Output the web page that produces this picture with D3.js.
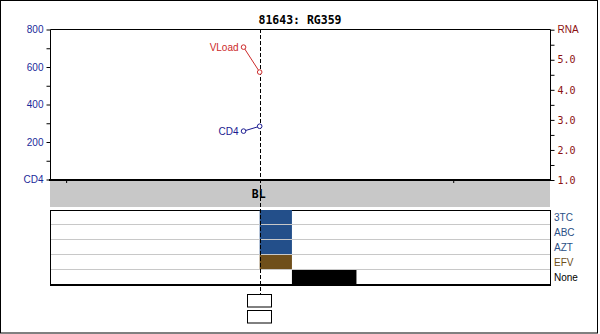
<!DOCTYPE html>
<html>
<head>
<meta charset="utf-8">
<script src="https://cdn.jsdelivr.net/npm/d3@7"></script>
<style>
  body { margin: 0; background: #fff; }
  svg { display: block; }
  text { font-family: "Liberation Sans", Arial, sans-serif; font-size: 10px; }
</style>
</head>
<body>
<svg id="chart" width="600" height="334" viewBox="0 0 600 334"></svg>
<script>
// ----- data -----
const title = "81643: RG359";
const visitMonths = [-1, 0];          // months from baseline
const cd4Values = [258, 284];
const rnaValues = [5.42, 4.59];       // log10 viral load
const baselineLabel = "BL";

const drugs = ["3TC", "ABC", "AZT", "EFV", "None"];
const drugStart = [0, 0, 0, 0, 2];
const drugEnd = [2, 2, 2, 2, 6];
const drugColors = ["#234f8a", "#234f8a", "#234f8a", "#6f4f1b", "#000000"];
const drugTextColors = ["#2a4f86", "#2a4f86", "#2a4f86", "#6f4f1b", "#000000"];

const cd4Ticks = [0, 100, 200, 300, 400, 500, 600, 700, 800];
const rnaTicks = [1, 1.5, 2, 2.5, 3, 3.5, 4, 4.5, 5, 5.5, 6];
const timeTicks = [-12, 12];

let svg = d3.select("#chart");

/* ----- layout ----- */
let plotLeft = 50, plotRight = 550, plotTop = 29, plotBottom = 180;
let bandBottom = 207;
let txTop = 210, rowH = 15;

let x = d3.scaleLinear().domain([-13, 18]).range([plotLeft, plotRight]);
let yCd4 = d3.scaleLinear().domain([0, 800]).range([179.5, 29.5]);
let yRna = d3.scaleLinear().domain([1, 6]).range([180, 29.7]);

// outer frame
svg.append("rect")
    .attr("x", 0.5).attr("y", 0.5)
    .attr("width", 597).attr("height", 332.5)
    .attr("fill", "none").attr("stroke", "#000");

// title
svg.append("text")
    .attr("x", 300).attr("y", 24)
    .attr("text-anchor", "middle")
    .style("font-family", "'DejaVu Sans Mono', monospace")
    .style("font-size", "11.5px")
    .style("font-weight", "bold")
    .text(title);

// gray band under plot
svg.append("rect")
    .attr("x", plotLeft).attr("y", plotBottom)
    .attr("width", plotRight - plotLeft).attr("height", bandBottom - plotBottom)
    .attr("fill", "#c8c8c8");

// plot frame lines
svg.append("path")
    .attr("d", `M${plotLeft + 0.5},${plotBottom}V${plotTop + 0.5}H${plotRight + 0.5}V${plotBottom}`)
    .attr("fill", "none").attr("stroke", "#000");
svg.append("line")
    .attr("x1", plotLeft - 1).attr("x2", plotRight + 1)
    .attr("y1", plotBottom).attr("y2", plotBottom)
    .attr("stroke", "#000").attr("stroke-width", 2);

/* ----- axes ----- */
let leftAxis = svg.append("g")
    .attr("transform", `translate(${plotLeft + 0.5},0)`)
    .call(d3.axisLeft(yCd4).tickValues(cd4Ticks).tickSize(4).tickPadding(3)
        .tickFormat(d => d === 0 ? "CD4" : (d % 200 === 0 ? d : "")));
leftAxis.select(".domain").remove();
leftAxis.selectAll("line").attr("stroke", "#000");
leftAxis.selectAll("text").attr("fill", "#1a2a9a")
    .style("font-family", "'Liberation Sans', Arial, sans-serif").style("font-size", "10px");

let rightAxis = svg.append("g")
    .attr("transform", `translate(${plotRight + 0.5},0)`)
    .call(d3.axisRight(yRna).tickValues(rnaTicks).tickSize(4).tickPadding(3)
        .tickFormat(d => d === 6 ? "RNA" : (Number.isInteger(d) ? d.toFixed(1) : "")));
rightAxis.select(".domain").remove();
rightAxis.selectAll("line").attr("stroke", "#000");
rightAxis.selectAll("text").attr("fill", "#8b1010")
    .style("font-family", "'DejaVu Sans Mono', monospace").style("font-size", "10px");
rightAxis.selectAll("text").filter(d => d === 6)
    .style("font-family", "'Liberation Sans', Arial, sans-serif");

let timeAxis = svg.append("g")
    .attr("transform", `translate(0,${plotBottom})`)
    .call(d3.axisBottom(x).tickValues(timeTicks).tickSize(3).tickFormat(""));
timeAxis.select(".domain").remove();
timeAxis.selectAll("line").attr("stroke", "#000");

/* ----- treatment panel ----- */
let tx = svg.append("g");
tx.append("rect")
    .attr("x", plotLeft + 0.5).attr("y", txTop + 0.5)
    .attr("width", plotRight - plotLeft).attr("height", rowH * drugs.length)
    .attr("fill", "#fff").attr("stroke", "#000");

tx.selectAll(".bar")
    .data(drugs)
    .enter()
    .append("rect")
    .attr("class", "bar")
    .attr("x", (d, i) => x(drugStart[i]))
    .attr("width", (d, i) => x(drugEnd[i]) - x(drugStart[i]))
    .attr("y", (d, i) => txTop + i * rowH)
    .attr("height", rowH)
    .attr("fill", (d, i) => drugColors[i]);

tx.selectAll(".sep")
    .data(drugs.slice(1))
    .enter()
    .append("line")
    .attr("class", "sep")
    .attr("x1", plotLeft + 1).attr("x2", plotRight)
    .attr("y1", (d, i) => txTop + (i + 1) * rowH - 0.5)
    .attr("y2", (d, i) => txTop + (i + 1) * rowH - 0.5)
    .attr("stroke", "#c8c8c8");

tx.append("line")
    .attr("x1", plotLeft).attr("x2", plotRight + 1)
    .attr("y1", txTop + rowH * drugs.length).attr("y2", txTop + rowH * drugs.length)
    .attr("stroke", "#000").attr("stroke-width", 2);
tx.append("line")
    .attr("x1", plotRight + 0.5).attr("x2", plotRight + 0.5)
    .attr("y1", txTop).attr("y2", txTop + rowH * drugs.length)
    .attr("stroke", "#000");

tx.selectAll(".drug")
    .data(drugs)
    .enter()
    .append("text")
    .attr("class", "drug")
    .attr("x", plotRight + 4)
    .attr("y", (d, i) => txTop + i * rowH + 11)
    .attr("fill", (d, i) => drugTextColors[i])
    .text(d => d);

/* ----- baseline marker ----- */
svg.append("line")
    .attr("x1", Math.round(x(0)) + 0.5).attr("x2", Math.round(x(0)) + 0.5)
    .attr("y1", plotTop).attr("y2", 294)
    .attr("stroke", "#000").attr("stroke-dasharray", "4,2");

svg.append("text")
    .attr("x", x(0) - 1).attr("y", 198)
    .attr("text-anchor", "middle")
    .style("font-family", "'DejaVu Sans Mono', monospace")
    .style("font-size", "11.5px")
    .style("font-weight", "bold")
    .text(baselineLabel);

[294.5, 310.5].forEach(yy => {
    svg.append("rect")
        .attr("x", Math.round(x(0)) - 12.5).attr("y", yy)
        .attr("width", 24).attr("height", 12.5)
        .attr("fill", "#fff").attr("stroke", "#000");
});

/* ----- lab series ----- */
function drawSeries(values, yScale, color, name) {
    let pts = visitMonths.map((m, i) => [x(m), yScale(values[i])]);
    svg.append("path")
        .attr("d", d3.line()(pts))
        .attr("fill", "none").attr("stroke", color);
    svg.selectAll(null)
        .data(pts)
        .enter()
        .append("circle")
        .attr("cx", d => d[0]).attr("cy", d => d[1])
        .attr("r", 2.3)
        .attr("fill", "#fff").attr("stroke", color);
    svg.append("text")
        .attr("x", pts[0][0] - 5).attr("y", pts[0][1] + 4)
        .attr("text-anchor", "end")
        .attr("fill", color)
        .text(name);
}

drawSeries(rnaValues, yRna, "#cc2a2a", "VLoad");
drawSeries(cd4Values, yCd4, "#1a1a90", "CD4");
</script>
</body>
</html>
